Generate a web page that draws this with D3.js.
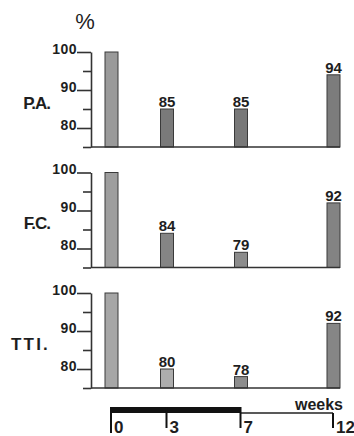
<!DOCTYPE html>
<html>
<head>
<meta charset="utf-8">
<script src="https://cdn.jsdelivr.net/npm/d3@7/dist/d3.min.js"></script>
<style>
  html, body { margin: 0; padding: 0; background: #fff; }
  svg { display: block; }
</style>
</head>
<body>
<script>
// ---- data ----
const weeks = [0, 3, 7, 12];
const categories = ["P.A.", "F.C.", "TTI."];
const paValues = [100, 85, 85, 94];
const fcValues = [100, 84, 79, 92];
const ttiValues = [100, 80, 78, 92];
const yTickValues = [75, 80, 85, 90, 95, 100];
const yLabelValues = [80, 90, 100];
const weekTicks = [0, 3, 7, 12];
const treatmentEnd = 7;
const unitLabel = "%";
const weeksLabel = "weeks";

// ---- styles ----
const barFills = [
  ["#9a9a9a", "#7a7a7a", "#787878", "#7c7c7c"],
  ["#9e9e9e", "#858585", "#8c8c8c", "#838383"],
  ["#a6a6a6", "#adadad", "#8d8d8d", "#868686"]
];
const series = [paValues, fcValues, ttiValues];
const FONT = "'Liberation Sans', Arial, sans-serif";
const INK = "#1e1e1e";

const W = 354, H = 436;
const svg = d3.select("body").append("svg").attr("width", W).attr("height", H);

const x = d3.scaleLinear().domain([0, 12]).range([111, 333]);
const axisX = 91;
const barW = 13;
const panelTop0 = 52, panelH = 95, panelStep = 120.5;
const labelSpacing = [-1, -1, 2.2];

series.forEach((vals, i) => {
  const top = panelTop0 + i * panelStep;
  const y = d3.scaleLinear().domain([75, 100]).range([top + panelH, top]);
  const g = svg.append("g");

  // bars
  g.selectAll("rect.bar").data(vals).join("rect")
    .attr("class", "bar")
    .attr("x", (d, j) => x(weeks[j]) - barW / 2 + 0.5)
    .attr("y", d => y(d))
    .attr("width", barW)
    .attr("height", d => y(75) - y(d))
    .attr("fill", (d, j) => barFills[i][j])
    .attr("stroke", "#3a3a3a")
    .attr("stroke-width", 1);

  // value labels
  g.selectAll("text.val").data(vals.map((v, j) => ({ v, j })).filter(d => d.j > 0)).join("text")
    .attr("class", "val")
    .attr("x", d => x(weeks[d.j]) + 0.5)
    .attr("y", d => y(d.v) - 2)
    .attr("text-anchor", "middle")
    .attr("font-family", FONT)
    .attr("font-size", 15)
    .attr("font-weight", "bold")
    .attr("fill", INK)
    .text(d => d.v);

  // baseline
  g.append("line")
    .attr("x1", axisX).attr("x2", x(12) + barW / 2 + 0.5)
    .attr("y1", y(75)).attr("y2", y(75))
    .attr("stroke", "#333").attr("stroke-width", 1.6);

  // y axis
  const ax = g.append("g").attr("class", "yaxis").attr("transform", "translate(" + axisX + ",0)");
  ax.call(d3.axisLeft(y).tickValues(yTickValues).tickSize(8).tickSizeOuter(0)
      .tickFormat(d => yLabelValues.includes(d) ? String(d) : ""));
  ax.select(".domain").attr("stroke", "#333").attr("stroke-width", 1.6);
  ax.selectAll(".tick line")
    .attr("stroke", "#333").attr("stroke-width", 1.6)
    .attr("x2", d => yLabelValues.includes(d) ? -14 : -8);
  ax.selectAll(".tick text")
    .attr("x", -14).attr("dy", null).attr("y", 1)
    .attr("text-anchor", "end")
    .attr("font-family", FONT)
    .attr("font-size", 14).attr("font-weight", "bold").attr("fill", INK)
    .attr("letter-spacing", 0.5);

  // category label
  g.append("text")
    .attr("x", 50)
    .attr("y", top + panelH / 2 + 9)
    .attr("text-anchor", "end")
    .attr("font-family", FONT)
    .attr("font-size", 17).attr("font-weight", "bold")
    .attr("fill", INK)
    .attr("letter-spacing", labelSpacing[i])
    .text(categories[i]);
});

// % label
svg.append("text")
  .attr("x", 85).attr("y", 29)
  .attr("text-anchor", "middle")
  .attr("font-family", FONT)
  .attr("font-size", 22)
  .attr("fill", INK)
  .text(unitLabel);

// timeline
const tlY = 410;
svg.append("rect")
  .attr("x", x(0)).attr("y", tlY - 3)
  .attr("width", x(treatmentEnd) - x(0)).attr("height", 6)
  .attr("fill", "#111");
svg.append("line")
  .attr("x1", x(treatmentEnd)).attr("x2", x(12))
  .attr("y1", tlY + 3).attr("y2", tlY + 3)
  .attr("stroke", "#222").attr("stroke-width", 1.6);
svg.selectAll("line.wt").data(weekTicks).join("line")
  .attr("class", "wt")
  .attr("x1", d => x(d)).attr("x2", d => x(d))
  .attr("y1", d => d > treatmentEnd ? tlY + 3 : tlY - 3)
  .attr("y2", d => d === 0 ? 433 : 428)
  .attr("stroke", "#111").attr("stroke-width", 2);
svg.selectAll("text.wl").data(weekTicks).join("text")
  .attr("class", "wl")
  .attr("x", d => x(d) + 3)
  .attr("y", 433)
  .attr("font-family", FONT)
  .attr("font-size", 17).attr("font-weight", "bold")
  .attr("fill", INK)
  .text(d => d);
svg.append("text")
  .attr("x", 343).attr("y", 410)
  .attr("text-anchor", "end")
  .attr("font-family", FONT)
  .attr("font-size", 16).attr("font-weight", "bold")
  .attr("fill", INK)
  .text(weeksLabel);
</script>
</body>
</html>
